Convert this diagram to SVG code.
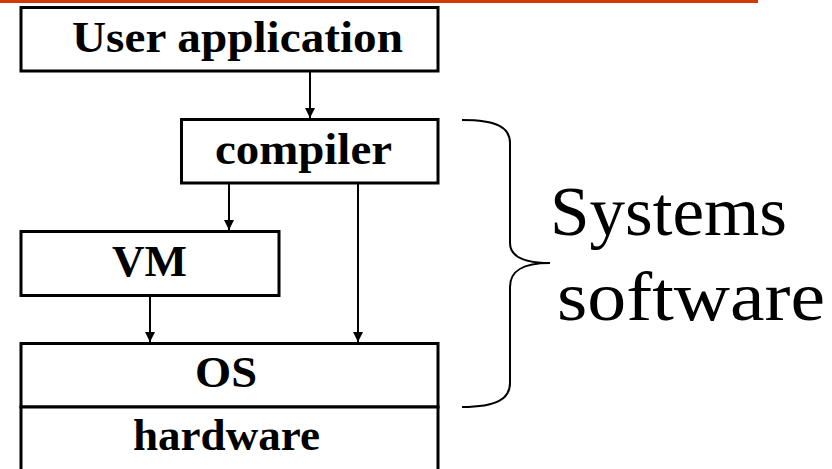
<svg xmlns="http://www.w3.org/2000/svg" width="832" height="469" viewBox="0 0 832 469">
<style>
.box{fill:#fff;stroke:#000;stroke-width:3}
.lbl{font-weight:bold;font-size:45px;fill:#000;text-anchor:middle}
.big{font-size:70px;fill:#000}
.conn{stroke:#000;stroke-width:2;fill:none;marker-end:url(#ah)}
</style>
<defs>
<marker id="ah" viewBox="0 0 10 10" refX="10" refY="5" markerWidth="10" markerHeight="10" markerUnits="userSpaceOnUse" orient="auto">
<path d="M0,0 L10,5 L0,10 Z" fill="#000"/>
</marker>
</defs>
<rect x="0" y="0" width="758" height="3" fill="#D03A00"/>
<g id="connectors">
<line class="conn" x1="310" y1="72" x2="310" y2="118"/>
<line class="conn" x1="229" y1="184" x2="229" y2="230"/>
<line class="conn" x1="358" y1="184" x2="358" y2="342"/>
<line class="conn" x1="150" y1="297" x2="150" y2="342"/>
</g>
<g id="user-application">
<rect class="box" x="21" y="7.5" width="417" height="63.5"/>
<text class="lbl" font-family="Liberation Serif, serif" x="237.5" y="52" textLength="331" lengthAdjust="spacingAndGlyphs">User application</text>
</g>
<g id="compiler">
<rect class="box" x="181.5" y="119.5" width="256.5" height="63.5"/>
<text class="lbl" font-family="Liberation Serif, serif" x="303.5" y="164" textLength="177" lengthAdjust="spacingAndGlyphs">compiler</text>
</g>
<g id="vm">
<rect class="box" x="21" y="231.5" width="258" height="64"/>
<text class="lbl" font-family="Liberation Serif, serif" x="149.5" y="276" textLength="75" lengthAdjust="spacingAndGlyphs">VM</text>
</g>
<g id="os">
<rect class="box" x="21" y="343.5" width="417" height="63.5"/>
<text class="lbl" font-family="Liberation Serif, serif" x="226" y="387" textLength="62" lengthAdjust="spacingAndGlyphs">OS</text>
</g>
<g id="hardware">
<rect class="box" x="21" y="407" width="417" height="70"/>
<text class="lbl" font-family="Liberation Serif, serif" x="226.5" y="450" textLength="187" lengthAdjust="spacingAndGlyphs">hardware</text>
</g>
<g id="systems-software">
<path d="M462,120 C498,120 510,128 510,143 L510,243 C510,255 522,263 550,263 C522,263 510,271 510,287 L510,383 C510,398 498,407 462,407" fill="none" stroke="#000" stroke-width="2"/>
<text class="big" font-family="Liberation Serif, serif" x="550" y="235" textLength="237" lengthAdjust="spacingAndGlyphs">Systems</text>
<text class="big" font-family="Liberation Serif, serif" x="557" y="320" textLength="268" lengthAdjust="spacingAndGlyphs">software</text>
</g>
</svg>
